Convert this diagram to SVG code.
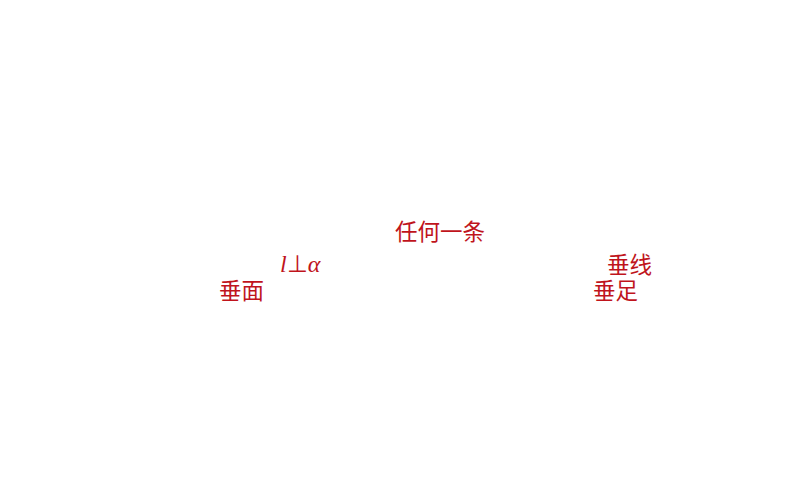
<svg xmlns="http://www.w3.org/2000/svg" width="794" height="495" viewBox="0 0 794 495">
<style>
.t{fill:#C0141C;font-family:"Liberation Serif","Noto Sans CJK SC",serif;font-size:22.5px;}
.m{fill:#C0141C;font-family:"Liberation Serif",serif;font-size:24px;font-style:italic;}
</style>
<rect width="794" height="495" fill="#ffffff"/>
<g id="label-rengeyitiao"><text class="t" x="395" y="240">任何一条</text></g>
<g id="label-l-perp-alpha"><text class="m" x="280" y="272">l<tspan font-style="normal">⊥</tspan>α</text></g>
<g id="label-chuimian"><text class="t" x="219" y="299">垂面</text></g>
<g id="label-chuixian"><text class="t" x="607" y="273">垂线</text></g>
<g id="label-chuizu"><text class="t" x="593" y="299">垂足</text></g>
<g id="connectors"></g>
</svg>
